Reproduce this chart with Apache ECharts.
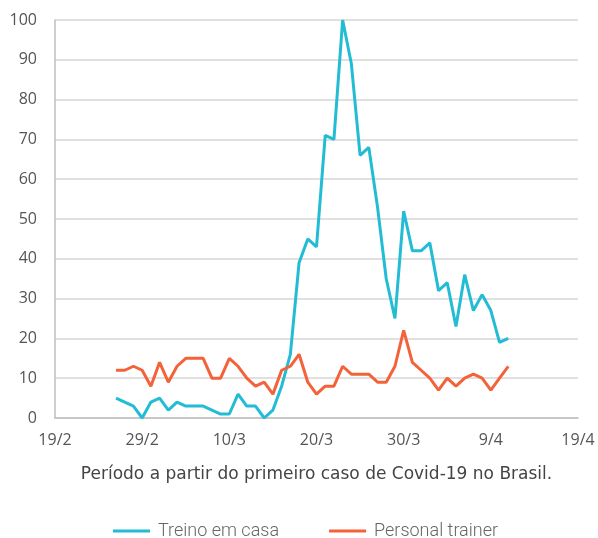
<!DOCTYPE html>
<html>
<head>
<meta charset="utf-8">
<script src="https://cdn.jsdelivr.net/npm/echarts@6/dist/echarts.min.js"></script>
<style>
  html, body { margin: 0; padding: 0; background: #fff; }
  #chart { width: 598px; height: 538px; }
</style>
</head>
<body>
<div id="chart"></div>
<script>
// dias contados a partir de 19/2 (dia 0); primeiro ponto em 26/2
const firstDay = 7
const tickLabels = ['19/2', '29/2', '10/3', '20/3', '30/3', '9/4', '19/4']

const treinoEmCasa = [
  5, 4, 3, 0, 4, 5, 2, 4, 3, 3, 3, 2, 1, 1, 6, 3, 3, 0, 2, 8, 16,
  39, 45, 43, 71, 70, 100, 89, 66, 68, 53, 35, 25, 52, 42, 42, 44,
  32, 34, 23, 36, 27, 31, 27, 19, 20
]
const personalTrainer = [
  12, 12, 13, 12, 8, 14, 9, 13, 15, 15, 15, 10, 10, 15, 13, 10, 8, 9, 6, 12, 13,
  16, 9, 6, 8, 8, 13, 11, 11, 11, 9, 9, 13, 22, 14, 12, 10, 7, 10, 8,
  10, 11, 10, 7, 10, 13
]

const toPoints = (arr) => arr.map((v, i) => [firstDay + i, v])

const chart = echarts.init(document.getElementById('chart'))
chart.setOption({
  animation: false,
  grid: { left: 55, right: 20, top: 20, bottom: 120 },
  legend: {
    top: 517,
    left: 108,
    itemWidth: 37,
    itemHeight: 3,
    itemGap: 50,
    icon: 'rect',
    textStyle: { fontFamily: 'Roboto', fontSize: 18, fontWeight: 300, color: '#666', padding: [0, 0, 0, 3] },
    data: ['Treino em casa', 'Personal trainer']
  },
  xAxis: {
    type: 'value',
    min: 0,
    max: 60,
    interval: 10,
    name: 'Período a partir do primeiro caso de Covid-19 no Brasil.',
    nameLocation: 'middle',
    nameGap: 48,
    nameTextStyle: { fontFamily: 'DejaVu Sans', fontSize: 17, color: '#444' },
    axisLine: { lineStyle: { color: '#bfbfbf', width: 1.5 } },
    axisTick: { show: false },
    splitLine: { show: false },
    axisLabel: {
      margin: 14,
      fontFamily: 'Open Sans',
      fontSize: 16,
      color: '#555',
      formatter: (v) => tickLabels[v / 10]
    }
  },
  yAxis: {
    type: 'value',
    min: 0,
    max: 100,
    interval: 10,
    axisLine: { show: true, lineStyle: { color: '#bfbfbf', width: 1.5 } },
    axisTick: { show: false },
    splitLine: { lineStyle: { color: '#d6d6d6', width: 1.5 } },
    axisLabel: { margin: 18, fontFamily: 'Open Sans', fontSize: 16, color: '#555' }
  },
  series: [
    {
      name: 'Treino em casa',
      type: 'line',
      data: toPoints(treinoEmCasa),
      showSymbol: false,
      lineStyle: { color: '#22bcd4', width: 3 },
      itemStyle: { color: '#22bcd4' }
    },
    {
      name: 'Personal trainer',
      type: 'line',
      data: toPoints(personalTrainer),
      showSymbol: false,
      lineStyle: { color: '#f4623a', width: 3 },
      itemStyle: { color: '#f4623a' }
    }
  ]
})
</script>
</body>
</html>
